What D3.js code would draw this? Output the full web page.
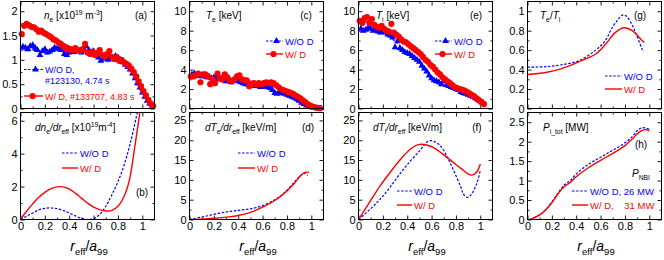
<!DOCTYPE html>
<html>
<head>
<meta charset="utf-8">
<script src="https://cdn.jsdelivr.net/npm/d3@7"></script>
<style>
  body { margin: 0; background: #fff; }
  svg { font-family: "Liberation Sans", Arial, sans-serif; }
</style>
</head>
<body>
<svg id="chart" width="664" height="260"></svg>
<script>
// ---------------------------------------------------------------- data
// (a) electron density [1e19 m^-3], measured points
const neWoDRho = [0.02,0.04,0.06,0.08,0.10,0.12,0.14,0.16,0.18,0.20,0.22,0.24,0.26,0.28,0.30,0.32,0.34,0.36,0.38,0.40,0.42,0.44,0.46,0.48,0.50,0.52,0.54,0.56,0.58,0.60,0.62,0.64,0.66,0.68,0.70,0.72,0.74,0.76,0.78,0.80,0.82,0.84,0.86,0.88,0.90,0.92,0.94,0.96,0.98,1.00,1.02,1.04,1.06,1.08];
const neWoD = [1.27,1.25,1.22,1.28,1.30,1.25,1.20,1.10,1.18,1.22,1.15,1.17,1.20,1.25,1.23,1.24,1.20,1.12,1.10,1.15,1.18,1.16,1.20,1.18,1.15,1.22,1.28,1.20,1.15,1.18,1.12,1.05,0.98,1.02,1.08,1.00,1.05,1.02,1.08,1.05,1.00,0.95,0.90,0.85,0.80,0.72,0.62,0.52,0.43,0.33,0.24,0.16,0.10,0.06];
const neWDRho = [0.01,0.03,0.05,0.07,0.09,0.11,0.13,0.15,0.17,0.19,0.21,0.23,0.25,0.27,0.29,0.31,0.33,0.35,0.37,0.39,0.41,0.43,0.45,0.47,0.49,0.51,0.53,0.55,0.57,0.59,0.61,0.63,0.65,0.67,0.69,0.71,0.73,0.75,0.77,0.79,0.81,0.83,0.85,0.87,0.89,0.91,0.93,0.95,0.97,0.99,1.01,1.03,1.05,1.07,1.09];
const neWD = [1.53,1.70,1.74,1.71,1.68,1.67,1.63,1.58,1.60,1.56,1.53,1.50,1.47,1.42,1.40,1.36,1.33,1.28,1.25,1.22,1.21,1.20,1.24,1.20,1.19,1.22,1.33,1.15,1.12,1.17,1.10,1.14,1.20,1.10,1.07,1.12,1.18,1.06,1.02,1.05,0.98,1.00,0.95,0.92,0.88,0.82,0.75,0.66,0.56,0.46,0.36,0.27,0.18,0.10,0.05];
const neErrWoD = 0.05, neErrWD = 0.06;
// (a) fitted profiles
const neFitWoDRho = [0, 0.2, 0.4, 0.6, 0.7, 0.8, 0.85, 0.9, 0.95, 1.0, 1.05];
const neFitWoD = [1.2, 1.19, 1.17, 1.14, 1.07, 1.0, 0.93, 0.78, 0.55, 0.3, 0.1];
const neFitWDRho = [0, 0.1, 0.2, 0.3, 0.4, 0.5, 0.6, 0.7, 0.8, 0.85, 0.9, 0.95, 1.0, 1.05, 1.08];
const neFitWD = [1.70, 1.66, 1.56, 1.42, 1.28, 1.2, 1.14, 1.1, 1.02, 0.96, 0.85, 0.66, 0.42, 0.18, 0.06];

// (c) electron temperature [keV]
const teWoDRho = [0.02,0.04,0.06,0.08,0.10,0.12,0.14,0.16,0.18,0.20,0.22,0.24,0.26,0.28,0.30,0.32,0.34,0.36,0.38,0.40,0.42,0.44,0.46,0.48,0.50,0.52,0.54,0.56,0.58,0.60,0.62,0.64,0.66,0.68,0.70,0.72,0.74,0.76,0.78,0.80,0.82,0.84,0.86,0.88,0.90,0.92,0.94,0.96,0.98,1.00,1.02,1.04,1.06,1.08];
const teWoD = [3.5,3.6,3.4,3.5,3.3,3.4,3.2,3.3,3.1,3.2,3.1,3.0,3.1,2.9,2.8,2.9,2.7,2.9,3.0,2.8,2.7,2.6,2.5,2.6,2.4,2.5,2.3,2.4,2.2,2.3,2.2,2.3,2.1,1.9,1.6,1.5,1.7,1.6,1.5,1.4,1.3,1.2,1.1,0.95,0.8,0.6,0.45,0.3,0.2,0.12,0.07,0.04,0.02,0.01];
const teWDRho = [0.01,0.03,0.05,0.07,0.09,0.11,0.13,0.15,0.17,0.19,0.21,0.23,0.25,0.27,0.29,0.31,0.33,0.35,0.37,0.39,0.41,0.43,0.45,0.47,0.49,0.51,0.53,0.55,0.57,0.59,0.61,0.63,0.65,0.67,0.69,0.71,0.73,0.75,0.77,0.79,0.81,0.83,0.85,0.87,0.89,0.91,0.93,0.95,0.97,0.99,1.01,1.03,1.05,1.07];
const teWD = [3.3,3.3,3.4,3.6,2.7,3.5,3.5,3.3,2.5,3.0,2.6,3.6,3.1,3.0,3.5,3.2,2.9,2.8,3.0,3.3,3.4,3.0,2.9,2.9,2.3,2.5,2.6,2.5,2.6,2.5,2.6,2.7,2.6,2.7,2.6,2.4,2.2,2.0,1.9,1.8,1.7,1.6,1.5,1.35,1.2,1.05,0.85,0.65,0.45,0.3,0.2,0.12,0.06,0.03];
const teErrWoD = 0.25, teErrWD = 0.3;
const teFitRho = [0, 0.2, 0.4, 0.5, 0.6, 0.7, 0.8, 0.9, 1.0, 1.05];
const teFitWoD = [3.5, 3.3, 2.9, 2.7, 2.5, 2.2, 1.7, 1.1, 0.3, 0.05];
const teFitWD = [3.3, 3.2, 3.0, 2.8, 2.6, 2.4, 1.8, 1.2, 0.3, 0.05];

// (e) ion temperature [keV]
const tiWoDRho = [0.02,0.04,0.06,0.08,0.10,0.12,0.14,0.16,0.18,0.20,0.22,0.24,0.26,0.28,0.30,0.32,0.34,0.36,0.38,0.40,0.42,0.44,0.46,0.48,0.50,0.52,0.54,0.56,0.58,0.60,0.62,0.64,0.66,0.68,0.70,0.72,0.74,0.76,0.78,0.80,0.82,0.84,0.86,0.88,0.90,0.92,0.94,0.96,0.98,1.00,1.02];
const tiWoD = [8.2,8.0,8.1,8.3,8.2,8.0,8.1,7.9,7.8,8.0,7.8,7.6,7.5,7.3,6.3,6.9,6.2,6.0,5.8,5.7,5.6,5.4,5.2,5.0,4.8,4.4,4.1,3.8,3.4,3.1,2.9,2.8,2.7,2.5,2.8,2.4,2.3,2.2,2.1,2.0,1.9,1.7,1.6,1.5,1.4,1.3,1.2,1.05,0.9,0.75,0.6];
const tiWDRho = [0.01,0.03,0.05,0.07,0.09,0.11,0.13,0.15,0.17,0.19,0.21,0.23,0.25,0.27,0.29,0.31,0.33,0.35,0.37,0.39,0.41,0.43,0.45,0.47,0.49,0.51,0.53,0.55,0.57,0.59,0.61,0.63,0.65,0.67,0.69,0.71,0.73,0.75,0.77,0.79,0.81,0.83,0.85,0.87,0.89,0.91,0.93,0.95,0.97,0.99,1.01,1.03];
const tiWD = [9.0,8.8,9.3,9.4,8.8,9.2,8.6,8.4,8.3,8.5,8.2,8.0,7.9,8.7,7.8,7.6,7.4,7.1,6.9,6.8,6.6,6.4,6.2,6.0,5.8,5.6,5.3,5.0,4.8,4.5,4.3,4.0,3.7,3.5,3.2,3.0,2.8,2.6,2.4,2.2,2.1,2.0,1.95,1.85,1.7,1.55,1.4,1.25,1.05,0.85,0.65,0.45];
const tiErrWoD = 0.25, tiErrWD = 0.3;
const tiFitRho = [0, 0.1, 0.2, 0.3, 0.4, 0.5, 0.6, 0.7, 0.8, 0.9, 1.0];
const tiFitWoD = [8.2, 8.1, 7.8, 6.9, 5.7, 4.7, 3.1, 2.4, 2.0, 1.4, 0.75];
const tiFitWD = [9.0, 8.8, 8.2, 7.6, 6.8, 5.7, 4.4, 3.1, 2.2, 1.6, 0.8];

// (b) dne/dreff [1e19 m^-4]
const dneWoDRho = [0, 0.05, 0.1, 0.15, 0.2, 0.25, 0.3, 0.35, 0.4, 0.45, 0.5, 0.55, 0.6, 0.65, 0.7, 0.75, 0.8, 0.85, 0.9, 0.95, 0.97];
const dneWoD = [0, 0.2, 0.4, 0.58, 0.68, 0.7, 0.66, 0.55, 0.4, 0.22, 0.07, 0.0, 0.05, 0.3, 0.8, 1.5, 2.3, 3.3, 4.6, 6.2, 6.8];
const dneWDRho = [0, 0.05, 0.1, 0.15, 0.2, 0.25, 0.3, 0.35, 0.4, 0.45, 0.5, 0.55, 0.6, 0.65, 0.7, 0.75, 0.8, 0.85, 0.88, 0.9, 0.93, 0.95, 0.98, 0.99];
const dneWD = [0, 0.5, 0.95, 1.35, 1.65, 1.87, 1.98, 1.98, 1.85, 1.6, 1.3, 1.0, 0.75, 0.6, 0.52, 0.55, 0.8, 1.4, 2.0, 2.6, 4.0, 5.0, 6.5, 7.0];

// (d) dTe/dreff [keV/m]
const dteWoDRho = [0, 0.1, 0.2, 0.3, 0.4, 0.5, 0.6, 0.7, 0.77, 0.86, 0.91, 0.94, 0.97];
const dteWoD = [0, 0.6, 1.3, 1.9, 2.3, 2.7, 3.5, 5.0, 6.5, 9.4, 11.1, 11.7, 11.1];
const dteWDRho = [0, 0.1, 0.2, 0.3, 0.4, 0.5, 0.6, 0.7, 0.77, 0.86, 0.91, 0.95, 0.98];
const dteWD = [0, 0.1, 0.3, 0.6, 1.0, 1.8, 3.1, 4.8, 6.4, 9.1, 11.0, 11.9, 11.9];

// (f) dTi/dreff [keV/m]
const dtiWoDRho = [0, 0.1, 0.18, 0.26, 0.34, 0.43, 0.51, 0.56, 0.59, 0.62, 0.67, 0.73, 0.78, 0.84, 0.86, 0.89, 0.92, 0.97, 1.0];
const dtiWoD = [0, 2.7, 5.2, 8.2, 11.5, 14.9, 17.6, 19.5, 19.9, 19.7, 18.7, 15.7, 12.4, 8.2, 6.5, 5.6, 6.1, 9.0, 12.4];
const dtiWDRho = [0, 0.1, 0.18, 0.26, 0.34, 0.42, 0.49, 0.56, 0.63, 0.7, 0.77, 0.84, 0.9, 0.93, 0.97, 1.0];
const dtiWD = [0, 4.8, 8.6, 11.9, 15.0, 17.6, 18.9, 18.8, 17.9, 16.3, 14.6, 12.9, 11.5, 11.2, 12.0, 14.0];

// (g) Te/Ti
const ratioWoDRho = [0, 0.15, 0.28, 0.42, 0.56, 0.64, 0.69, 0.74, 0.78, 0.81, 0.85, 0.89, 0.95];
const ratioWoD = [0.425, 0.43, 0.45, 0.49, 0.6, 0.7, 0.82, 0.91, 0.96, 0.95, 0.88, 0.77, 0.58];
const ratioWDRho = [0, 0.15, 0.28, 0.42, 0.56, 0.64, 0.72, 0.79, 0.86, 0.94, 0.96];
const ratioWD = [0.35, 0.37, 0.41, 0.48, 0.56, 0.66, 0.78, 0.83, 0.8, 0.7, 0.68];

// (h) Pi_tot [MW]
const piRho = [0.02, 0.1, 0.15, 0.2, 0.25, 0.3, 0.35, 0.4, 0.5, 0.6, 0.7, 0.8, 0.86, 0.9, 0.94, 0.97, 1.0];
const piWoD = [0, 0.12, 0.25, 0.45, 0.68, 0.88, 1.0, 1.17, 1.42, 1.6, 1.78, 1.97, 2.13, 2.28, 2.36, 2.35, 2.32];
const piWD = [0, 0.12, 0.25, 0.43, 0.66, 0.84, 0.95, 1.1, 1.33, 1.52, 1.7, 1.9, 2.07, 2.2, 2.29, 2.31, 2.28];

const xTicks = [0, 0.2, 0.4, 0.6, 0.8, 1];
const xMinor = [0.1, 0.3, 0.5, 0.7, 0.9];

// ---------------------------------------------------------------- layout
const BLUE = "#0000ff";
const RED = "#ff0000";
const colX = [20, 189, 358, 527];
const rowY = [[1, 108], [112, 219]];
const PW = 134;
const X_MAX = 1.1;

const svg = d3.select("#chart");

const zip = (a, b) => a.map((v, i) => [v, b[i]]);

const panels = [
  { key: "a", col: 0, row: 0, yMax: 2.2, yTicks: [0, 0.5, 1, 1.5, 2], yMinor: [0.25, 0.75, 1.25, 1.75],
    lines: [
      { pts: zip(neFitWoDRho, neFitWoD), color: BLUE, dashed: true },
      { pts: zip(neFitWDRho, neFitWD), color: RED },
    ],
    scatter: [
      { pts: zip(neWoDRho, neWoD), err: neErrWoD, color: BLUE, marker: "tri" },
      { pts: zip(neWDRho, neWD), err: neErrWD, color: RED, marker: "circle" },
    ] },
  { key: "c", col: 1, row: 0, yMax: 11, yTicks: [0, 2, 4, 6, 8, 10], yMinor: [1, 3, 5, 7, 9],
    lines: [
      { pts: zip(teFitRho, teFitWoD), color: BLUE, dashed: true },
      { pts: zip(teFitRho, teFitWD), color: RED },
    ],
    scatter: [
      { pts: zip(teWoDRho, teWoD), err: teErrWoD, color: BLUE, marker: "tri" },
      { pts: zip(teWDRho, teWD), err: teErrWD, color: RED, marker: "circle" },
    ] },
  { key: "e", col: 2, row: 0, yMax: 11, yTicks: [0, 2, 4, 6, 8, 10], yMinor: [1, 3, 5, 7, 9],
    lines: [
      { pts: zip(tiFitRho, tiFitWoD), color: BLUE, dashed: true },
      { pts: zip(tiFitRho, tiFitWD), color: RED },
    ],
    scatter: [
      { pts: zip(tiWoDRho, tiWoD), err: tiErrWoD, color: BLUE, marker: "tri" },
      { pts: zip(tiWDRho, tiWD), err: tiErrWD, color: RED, marker: "circle" },
    ] },
  { key: "g", col: 3, row: 0, yMax: 1.1, yTicks: [0, 0.2, 0.4, 0.6, 0.8, 1], yMinor: [0.1, 0.3, 0.5, 0.7, 0.9],
    lines: [
      { pts: zip(ratioWoDRho, ratioWoD), color: BLUE, dashed: true },
      { pts: zip(ratioWDRho, ratioWD), color: RED },
    ] },
  { key: "b", col: 0, row: 1, yMax: 6.5, yTicks: [0, 2, 4, 6], yMinor: [1, 3, 5],
    lines: [
      { pts: zip(dneWoDRho, dneWoD), color: BLUE, dashed: true },
      { pts: zip(dneWDRho, dneWD), color: RED },
    ] },
  { key: "d", col: 1, row: 1, yMax: 27, yTicks: [0, 5, 10, 15, 20, 25], yMinor: [2.5, 7.5, 12.5, 17.5, 22.5],
    lines: [
      { pts: zip(dteWoDRho, dteWoD), color: BLUE, dashed: true },
      { pts: zip(dteWDRho, dteWD), color: RED },
    ] },
  { key: "f", col: 2, row: 1, yMax: 27, yTicks: [0, 5, 10, 15, 20, 25], yMinor: [2.5, 7.5, 12.5, 17.5, 22.5],
    lines: [
      { pts: zip(dtiWoDRho, dtiWoD), color: BLUE, dashed: true },
      { pts: zip(dtiWDRho, dtiWD), color: RED },
    ] },
  { key: "h", col: 3, row: 1, yMax: 2.75, yTicks: [0, 0.5, 1, 1.5, 2, 2.5], yMinor: [0.25, 0.75, 1.25, 1.75, 2.25],
    lines: [
      { pts: zip(piRho, piWoD), color: BLUE, dashed: true },
      { pts: zip(piRho, piWD), color: RED },
    ] },
];

const fmt = (d) => String(+d.toFixed(2));

// text with italic / sub / superscript pieces
function rich(parent, x, y, parts, size, color, anchor) {
  const t = parent.append("text")
    .attr("x", x).attr("y", y)
    .attr("font-size", size)
    .attr("fill", color || "#000")
    .attr("text-anchor", anchor || "start")
    .style("white-space", "pre");
  let shift = 0;
  parts.forEach(([s, st]) => {
    const target = st === "sub" ? size * 0.3 : st === "sup" ? -size * 0.42 : 0;
    const ts = t.append("tspan").attr("dy", target - shift).text(s);
    shift = target;
    if (st === "sub" || st === "sup") ts.attr("font-size", size * 0.68);
    if (st === "i") ts.attr("font-style", "italic");
  });
  return t;
}

function styleAxis(a) {
  a.select(".domain").remove();
  a.selectAll("line").attr("stroke", "#000").attr("stroke-width", 0.9);
  a.selectAll("text").attr("font-size", 11).attr("font-family", "Liberation Sans, Arial, sans-serif").attr("fill", "#000");
}

panels.forEach((p) => {
  const y0 = rowY[p.row][0];
  const ph = rowY[p.row][1] - y0;
  const g = svg.append("g").attr("transform", `translate(${colX[p.col] + 0.5},${y0 + 0.5})`);
  const x = d3.scaleLinear().domain([0, X_MAX]).range([0, PW]);
  const y = d3.scaleLinear().domain([0, p.yMax]).range([ph, 0]);

  g.append("clipPath").attr("id", `clip-${p.key}`)
    .append("rect").attr("width", PW).attr("height", ph);

  // axes, ticks pointing inward on all four sides
  g.append("g").call(d3.axisLeft(y).tickValues(p.yTicks).tickSize(-4).tickPadding(3).tickFormat(fmt)).call(styleAxis);
  g.append("g").call(d3.axisLeft(y).tickValues(p.yMinor).tickSize(-2).tickFormat("")).call(styleAxis);
  g.append("g").attr("transform", `translate(${PW},0)`)
    .call(d3.axisRight(y).tickValues(p.yTicks).tickSize(-4).tickFormat("")).call(styleAxis);
  g.append("g").attr("transform", `translate(${PW},0)`)
    .call(d3.axisRight(y).tickValues(p.yMinor).tickSize(-2).tickFormat("")).call(styleAxis);
  g.append("g").attr("transform", `translate(0,${ph})`)
    .call(d3.axisBottom(x).tickValues(xTicks).tickSize(-4).tickPadding(3).tickFormat(p.row === 1 ? fmt : "")).call(styleAxis);
  g.append("g").attr("transform", `translate(0,${ph})`)
    .call(d3.axisBottom(x).tickValues(xMinor).tickSize(-2).tickFormat("")).call(styleAxis);
  g.append("g").call(d3.axisTop(x).tickValues(xTicks).tickSize(-4).tickFormat("")).call(styleAxis);
  g.append("g").call(d3.axisTop(x).tickValues(xMinor).tickSize(-2).tickFormat("")).call(styleAxis);

  const line = d3.line().x((d) => x(d[0])).y((d) => y(d[1])).curve(d3.curveCatmullRom.alpha(0.5));
  const lineG = g.append("g").attr("clip-path", `url(#clip-${p.key})`);
  (p.lines || []).forEach((l) => {
    lineG.append("path")
      .attr("d", line(l.pts))
      .attr("fill", "none")
      .attr("stroke", l.color)
      .attr("stroke-width", l.dashed ? 1.2 : 1.4)
      .attr("stroke-dasharray", l.dashed ? "2.5,1.6" : null);
  });

  (p.scatter || []).forEach((s) => {
    const sg = g.append("g");
    const light = s.color === RED ? "#ff7a7a" : "#6a6aff";
    sg.selectAll("line.err").data(s.pts).enter().append("line")
      .attr("x1", (d) => x(d[0])).attr("x2", (d) => x(d[0]))
      .attr("y1", (d) => y(d[1] - s.err)).attr("y2", (d) => y(d[1] + s.err))
      .attr("stroke", light).attr("stroke-width", 0.8);
    sg.selectAll("path.mk").data(s.pts).enter().append("path")
      .attr("transform", (d) => `translate(${x(d[0])},${y(d[1])})`)
      .attr("d", d3.symbol(s.marker === "tri" ? d3.symbolTriangle : d3.symbolCircle, s.marker === "tri" ? 20 : 30)())
      .attr("fill", s.color);
  });

  g.append("rect").attr("width", PW).attr("height", ph)
    .attr("fill", "none").attr("stroke", "#000").attr("stroke-width", 1);
});

// ---------------------------------------------------------------- annotations
const ann = svg.append("g");

const titles = [
  [44, 19, [["n", "i"], ["e", "sub"], [" [x10"], ["19", "sup"], [" m"], ["-3", "sup"], ["]"]]],
  [206, 19, [["T", "i"], ["e", "sub"], [" [keV]"]]],
  [376, 19, [["T", "i"], ["i", "sub"], [" [keV]"]]],
  [540, 19, [["T", "i"], ["e", "sub"], ["/"], ["T", "i"], ["i", "sub"]]],
  [35, 131, [["dn", "i"], ["e", "sub"], ["/dr", "i"], ["eff", "sub"], [" [x10"], ["19", "sup"], ["m"], ["-4", "sup"], ["]"]]],
  [205, 131, [["dT", "i"], ["e", "sub"], ["/dr", "i"], ["eff", "sub"], [" [keV/m]"]]],
  [373, 131, [["dT", "i"], ["i", "sub"], ["/dr", "i"], ["eff", "sub"], [" [keV/m]"]]],
  [543, 131, [["P", "i"], ["i_tot", "sub"], [" [MW]"]]],
  [632, 177, [["P", "i"], ["NBI", "sub"]]],
];
titles.forEach(([tx, ty, parts]) => rich(ann, tx, ty, parts, 10));

const letters = [
  ["(a)", 141, 19], ["(c)", 306, 19], ["(e)", 476, 19], ["(g)", 640, 19],
  ["(b)", 142, 196], ["(d)", 308, 131], ["(f)", 477, 131], ["(h)", 641, 148],
];
letters.forEach(([s, lx, ly]) => ann.append("text").attr("x", lx).attr("y", ly)
  .attr("font-size", 10).attr("text-anchor", "middle").text(s));

// x-axis titles under the bottom row
colX.forEach((cx) => rich(ann, cx + PW / 2 + 2, 251,
  [["r", "i"], ["eff", "sub"], ["/"], ["a", "i"], ["99", "sub"]], 14, "#000", "middle"));

function legendItem(x1, x2, yy, color, dashed, marker, lines, size, gap) {
  ann.append("line").attr("x1", x1).attr("x2", x2).attr("y1", yy).attr("y2", yy)
    .attr("stroke", color).attr("stroke-width", dashed ? 1.2 : 1.4)
    .attr("stroke-dasharray", dashed ? "2.5,1.6" : null);
  if (marker) {
    ann.append("path")
      .attr("transform", `translate(${(x1 + x2) / 2 + (marker === "tri" ? 2 : -1)},${yy})`)
      .attr("d", d3.symbol(marker === "tri" ? d3.symbolTriangle : d3.symbolCircle, marker === "tri" ? 20 : 30)())
      .attr("fill", color);
  }
  const fs = size || 9.5;
  lines.forEach((s, i) => ann.append("text")
    .attr("x", x2 + 2).attr("y", yy + 3.5 + i * (gap || 10))
    .attr("font-size", fs).attr("fill", color)
    .style("white-space", "pre").text(s));
}

legendItem(24, 43, 69.5, BLUE, true, "tri", ["W/O D,", "#123130, 4.74 s"], 9, 10.5);
legendItem(24, 43, 96, RED, false, "circle", ["W/ D, #133707, 4.83 s"], 9);
legendItem(266, 283, 41, BLUE, true, "tri", ["W/O D"]);
legendItem(266, 283, 54, RED, false, "circle", ["W/ D"]);
legendItem(435, 452, 41, BLUE, true, "tri", ["W/O D"]);
legendItem(435, 452, 54, RED, false, "circle", ["W/ D"]);
legendItem(605, 622, 76, BLUE, true, null, ["W/O D"]);
legendItem(605, 622, 89, RED, false, null, ["W/ D"]);
legendItem(62, 78, 153, BLUE, true, null, ["W/O D"]);
legendItem(62, 78, 168, RED, false, null, ["W/ D"]);
legendItem(238, 255, 153, BLUE, true, null, ["W/O D"]);
legendItem(238, 255, 168, RED, false, null, ["W/ D"]);
legendItem(397, 412, 191, BLUE, true, null, ["W/O D"]);
legendItem(397, 412, 205, RED, false, null, ["W/ D"]);
legendItem(572, 588, 191, BLUE, true, null, ["W/O D, 26 MW"]);
legendItem(572, 588, 205, RED, false, null, ["W/ D,    31 MW"]);
</script>
</body>
</html>
